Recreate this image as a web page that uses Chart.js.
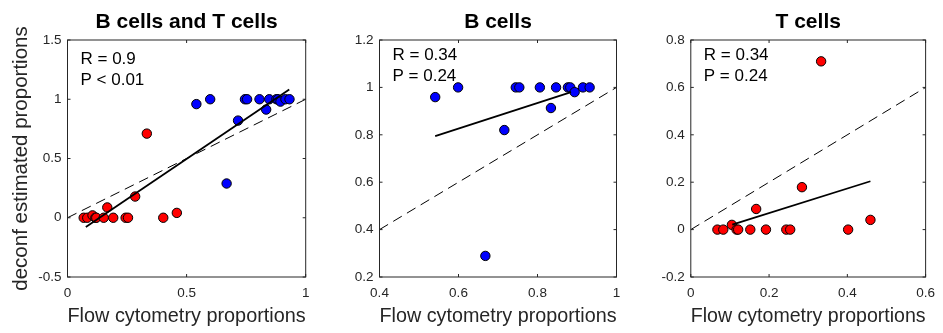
<!DOCTYPE html>
<html lang="en">
<head>
<meta charset="UTF-8" />
<title>deconf vs flow cytometry</title>
<script src="https://cdn.jsdelivr.net/npm/chart.js"></script>
<style>
  body { margin: 0; background: #fff; width: 943px; height: 333px; position: relative; overflow: hidden; }
  canvas { position: absolute; top: 0; }
</style>
</head>
<body>
<canvas id="allChart" width="320" height="333" style="left:0px"></canvas>
<canvas id="bChart" width="310" height="333" style="left:320px"></canvas>
<canvas id="tChart" width="313" height="333" style="left:630px"></canvas>

<script>
// B cells: flow cytometry proportion vs deconf estimate
const bFlow = [0.541, 0.599, 0.668, 0.716, 0.745, 0.754, 0.806, 0.834, 0.847, 0.877, 0.883, 0.894, 0.915, 0.932];
const bEst  = [0.959, 1.0, 0.289, 0.82, 1.0, 1.0, 1.0, 0.913, 1.0, 1.0, 1.0, 0.98, 1.0, 1.0];

// T cells
const tFlow = [0.068, 0.083, 0.105, 0.117, 0.121, 0.152, 0.167, 0.192, 0.244, 0.254, 0.284, 0.333, 0.402, 0.459];
const tEst  = [0, 0, 0.02, 0, 0, 0, 0.087, 0, 0, 0, 0.179, 0.71, 0, 0.041];

// regression lines (end points)
const allFitX = [0.077, 0.931];
const allFitY = [-0.079, 1.082];
const bFitX = [0.541, 0.885];
const bFitY = [0.794, 0.98];
const tFitX = [0.106, 0.459];
const tFitY = [0.021, 0.204];

const allStats = ["R = 0.9", "P < 0.01"];
const bStats = ["R = 0.34", "P = 0.24"];
const tStats = ["R = 0.34", "P = 0.24"];

const allXTicks = [0, 0.5, 1];
const allYTicks = [-0.5, 0, 0.5, 1, 1.5];
const bXTicks = [0.4, 0.6, 0.8, 1];
const bYTicks = [0.2, 0.4, 0.6, 0.8, 1, 1.2];
const tXTicks = [0, 0.2, 0.4, 0.6];
const tYTicks = [-0.2, 0, 0.2, 0.4, 0.6, 0.8];

const FONT = '"Liberation Sans", Arial, Helvetica, sans-serif';
const AXIS = "#262626";
Chart.defaults.font.family = FONT;

const toPts = (xs, ys) => xs.map((x, i) => ({ x: x, y: ys[i] }));

// box + inward ticks on all sides, plus R / P text
const framePlugin = {
  id: "frame",
  afterDraw(chart, args, opts) {
    const { ctx, chartArea: a, scales } = chart;
    ctx.save();
    ctx.strokeStyle = AXIS;
    ctx.lineWidth = 1;
    ctx.strokeRect(a.left, a.top, a.right - a.left, a.bottom - a.top);
    ctx.beginPath();
    scales.x.ticks.forEach(t => {
      const px = scales.x.getPixelForValue(t.value);
      ctx.moveTo(px, a.bottom); ctx.lineTo(px, a.bottom - 3);
      ctx.moveTo(px, a.top); ctx.lineTo(px, a.top + 3);
    });
    scales.y.ticks.forEach(t => {
      const py = scales.y.getPixelForValue(t.value);
      ctx.moveTo(a.left, py); ctx.lineTo(a.left + 3, py);
      ctx.moveTo(a.right, py); ctx.lineTo(a.right - 3, py);
    });
    ctx.stroke();

    ctx.fillStyle = "#000";
    ctx.font = "17px " + FONT;
    ctx.textBaseline = "middle";
    opts.lines.forEach((s, i) => ctx.fillText(s, a.left + 13, a.top + opts.top + i * 21));
    ctx.restore();
  }
};

function makeChart(id, p) {
  const datasets = [
    {
      data: toPts(p.fitX, p.fitY),
      showLine: true, borderColor: "#000", borderWidth: 1.8,
      pointRadius: 0, order: 1
    }
  ];
  p.groups.forEach(g => {
    datasets.push({
      data: toPts(g.x, g.y),
      backgroundColor: g.color, borderColor: "#000", borderWidth: 1,
      pointRadius: 4.7, order: 2
    });
  });
  const lo = p.xTicks[0], hi = p.xTicks[p.xTicks.length - 1];
  datasets.push({
    data: toPts([lo, hi], [lo, hi]),
    showLine: true, borderColor: "#000", borderWidth: 1, borderDash: [10, 6],
    pointRadius: 0, order: 3
  });

  return new Chart(document.getElementById(id), {
    type: "scatter",
    data: { datasets: datasets },
    options: {
      responsive: false,
      animation: false,
      devicePixelRatio: 1,
      layout: { padding: { left: 0, right: p.padRight, top: 0, bottom: 0 } },
      plugins: {
        legend: { display: false },
        tooltip: { enabled: false },
        title: {
          display: true, text: p.title, color: "#000", fullSize: false,
          font: { size: 21, weight: "bold" },
          padding: { top: 9.4, bottom: 5.4 }
        },
        frame: { lines: p.stats, top: p.statTop }
      },
      scales: {
        x: {
          type: "linear", min: p.xTicks[0], max: p.xTicks[p.xTicks.length - 1],
          afterBuildTicks: s => { s.ticks = p.xTicks.map(v => ({ value: v })); },
          afterFit: s => { s.height = 56; },
          grid: { display: false, drawTicks: false },
          border: { display: false },
          ticks: { padding: 8, color: AXIS, font: { size: 13.5 }, autoSkip: false, maxRotation: 0, callback: v => String(v) },
          title: { display: true, text: "Flow cytometry proportions", color: AXIS, font: { size: 20 }, padding: { top: 0, bottom: 4.5 } }
        },
        y: {
          type: "linear", min: p.yTicks[0], max: p.yTicks[p.yTicks.length - 1],
          afterBuildTicks: s => { s.ticks = p.yTicks.map(v => ({ value: v })); },
          afterFit: s => { s.width = p.yWidth; },
          grid: { display: false, drawTicks: false },
          border: { display: false },
          ticks: { padding: 6, color: AXIS, font: { size: 13.5 }, autoSkip: false, callback: v => String(v) },
          title: { display: !!p.yTitle, text: p.yTitle || "", color: AXIS, font: { size: 20.5 }, padding: { top: 9, bottom: 0 } }
        }
      }
    },
    plugins: [framePlugin]
  });
}

makeChart("allChart", {
  title: "B cells and T cells",
  yTitle: "deconf estimated proportions",
  groups: [
    { x: tFlow, y: tEst, color: "#ff0000" },
    { x: bFlow, y: bEst, color: "#0000ff" }
  ],
  fitX: allFitX, fitY: allFitY,
  stats: allStats, statTop: 19,
  xTicks: allXTicks, yTicks: allYTicks,
  yWidth: 67.5, padRight: 14.3
});

makeChart("bChart", {
  title: "B cells",
  groups: [{ x: bFlow, y: bEst, color: "#0000ff" }],
  fitX: bFitX, fitY: bFitY,
  stats: bStats, statTop: 15,
  xTicks: bXTicks, yTicks: bYTicks,
  yWidth: 59.5, padRight: 13.5
});

makeChart("tChart", {
  title: "T cells",
  groups: [{ x: tFlow, y: tEst, color: "#ff0000" }],
  fitX: tFitX, fitY: tFitY,
  stats: tStats, statTop: 15,
  xTicks: tXTicks, yTicks: tYTicks,
  yWidth: 60.8, padRight: 16.2
});
</script>
</body>
</html>
